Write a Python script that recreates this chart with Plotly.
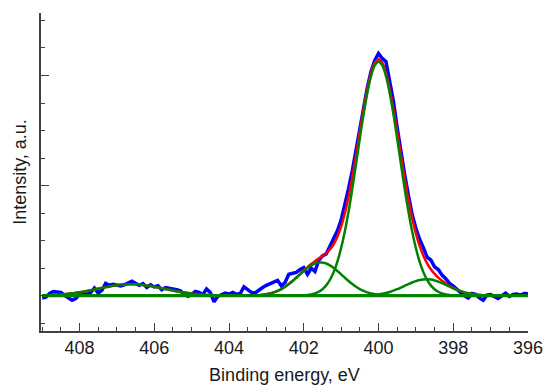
import plotly.graph_objects as go

# Binding energy grid (eV)
energy_ev = [
    409.0, 408.9, 408.8, 408.7, 408.6, 408.5, 408.4, 408.3, 408.2, 408.1,
    408.0, 407.9, 407.8, 407.7, 407.6, 407.5, 407.4, 407.3, 407.2, 407.1,
    407.0, 406.9, 406.8, 406.7, 406.6, 406.5, 406.4, 406.3, 406.2, 406.1,
    406.0, 405.9, 405.8, 405.7, 405.6, 405.5, 405.4, 405.3, 405.2, 405.1,
    405.0, 404.9, 404.8, 404.7, 404.6, 404.5, 404.4, 404.3, 404.2, 404.1,
    404.0, 403.9, 403.8, 403.7, 403.6, 403.5, 403.4, 403.3, 403.2, 403.1,
    403.0, 402.9, 402.8, 402.7, 402.6, 402.5, 402.4, 402.3, 402.2, 402.1,
    402.0, 401.9, 401.8, 401.7, 401.6, 401.5, 401.4, 401.3, 401.2, 401.1,
    401.0, 400.9, 400.8, 400.7, 400.6, 400.5, 400.4, 400.3, 400.2, 400.1,
    400.0, 399.9, 399.8, 399.7, 399.6, 399.5, 399.4, 399.3, 399.2, 399.1,
    399.0, 398.9, 398.8, 398.7, 398.6, 398.5, 398.4, 398.3, 398.2, 398.1,
    398.0, 397.9, 397.8, 397.7, 397.6, 397.5, 397.4, 397.3, 397.2, 397.1,
    397.0, 396.9, 396.8, 396.7, 396.6, 396.5, 396.4, 396.3, 396.2, 396.1,
    396.0,
]

# Measured spectrum (background subtracted, a.u.)
measured = [
    -0.08, -0.05, 0.08, 0.15, 0.14, 0.12, 0.02, -0.08, -0.16, -0.10,
    0.06, 0.10, 0.05, 0.12, 0.28, 0.10, 0.20, 0.45, 0.38, 0.42,
    0.38, 0.36, 0.40, 0.45, 0.53, 0.45, 0.38, 0.44, 0.30, 0.40,
    0.32, 0.36, 0.22, 0.30, 0.28, 0.26, 0.22, 0.18, 0.05, -0.02,
    0.05, 0.16, 0.12, 0.04, 0.25, 0.12, -0.22, -0.02, 0.04, 0.10,
    0.06, 0.12, 0.05, 0.08, 0.32, 0.20, 0.12, 0.10, 0.22, 0.30,
    0.38, 0.45, 0.52, 0.56, 0.36, 0.48, 0.78, 0.82, 0.85, 0.95,
    1.02, 0.78, 1.00, 0.88, 1.28, 1.45, 1.52, 1.80, 2.05, 2.36,
    2.75, 3.30, 3.90, 4.55, 5.30, 6.05, 6.85, 7.55, 8.15, 8.55,
    8.80, 8.62, 8.50, 7.85, 7.05, 6.10, 5.20, 4.40, 3.65, 2.95,
    2.45, 2.05, 1.75, 1.40, 1.30, 1.05, 0.95, 0.75, 0.62, 0.45,
    0.35, 0.22, 0.12, 0.00, -0.08, 0.08, 0.05, -0.08, -0.16, 0.02,
    0.04, -0.02, -0.10, 0.00, 0.09, -0.02, 0.05, 0.06, 0.02, 0.08,
    0.07,
]

# Fit envelope (sum of components)
fit_envelope = [
    0.012, 0.016, 0.021, 0.028, 0.036, 0.046, 0.057, 0.071, 0.087, 0.106,
    0.127, 0.150, 0.175, 0.202, 0.230, 0.258, 0.286, 0.314, 0.340, 0.363,
    0.384, 0.400, 0.412, 0.418, 0.420, 0.416, 0.407, 0.394, 0.376, 0.354,
    0.330, 0.303, 0.275, 0.247, 0.218, 0.191, 0.165, 0.140, 0.118, 0.098,
    0.081, 0.065, 0.052, 0.041, 0.032, 0.025, 0.019, 0.014, 0.011, 0.008,
    0.006, 0.004, 0.004, 0.004, 0.004, 0.005, 0.008, 0.014, 0.023, 0.037,
    0.057, 0.085, 0.124, 0.176, 0.243, 0.325, 0.423, 0.534, 0.658, 0.787,
    0.916, 1.039, 1.154, 1.257, 1.351, 1.443, 1.547, 1.683, 1.871, 2.140,
    2.511, 2.996, 3.604, 4.321, 5.119, 5.958, 6.773, 7.503, 8.082, 8.456,
    8.587, 8.461, 8.092, 7.513, 6.779, 5.951, 5.091, 4.258, 3.493, 2.824,
    2.265, 1.810, 1.453, 1.178, 0.963, 0.794, 0.658, 0.545, 0.447, 0.361,
    0.288, 0.224, 0.170, 0.123, 0.089, 0.062, 0.042, 0.028, 0.018, 0.011,
    0.007, 0.004, 0.002, 0.001, 0.0, 0.0, 0.0, 0.0, 0.0, 0.0,
    0.0,
]

# Component near 406.6 eV
comp_406 = [
    0.012, 0.016, 0.021, 0.028, 0.036, 0.046, 0.057, 0.071, 0.087, 0.106,
    0.127, 0.150, 0.175, 0.202, 0.230, 0.258, 0.286, 0.314, 0.340, 0.363,
    0.384, 0.400, 0.412, 0.418, 0.420, 0.416, 0.407, 0.394, 0.376, 0.354,
    0.330, 0.303, 0.275, 0.247, 0.218, 0.191, 0.165, 0.140, 0.118, 0.098,
    0.081, 0.065, 0.052, 0.041, 0.032, 0.025, 0.019, 0.014, 0.011, 0.008,
    0.006, 0.004, 0.003, 0.002, 0.001, 0.0, 0.0, 0.0, 0.0, 0.0,
    0.0, 0.0, 0.0, 0.0, 0.0, 0.0, 0.0, 0.0, 0.0, 0.0,
    0.0, 0.0, 0.0, 0.0, 0.0, 0.0, 0.0, 0.0, 0.0, 0.0,
    0.0, 0.0, 0.0, 0.0, 0.0, 0.0, 0.0, 0.0, 0.0, 0.0,
    0.0, 0.0, 0.0, 0.0, 0.0, 0.0, 0.0, 0.0, 0.0, 0.0,
    0.0, 0.0, 0.0, 0.0, 0.0, 0.0, 0.0, 0.0, 0.0, 0.0,
    0.0, 0.0, 0.0, 0.0, 0.0, 0.0, 0.0, 0.0, 0.0, 0.0,
    0.0, 0.0, 0.0, 0.0, 0.0, 0.0, 0.0, 0.0, 0.0, 0.0,
    0.0,
]

# Component near 401.5 eV
comp_401 = [
    0.0, 0.0, 0.0, 0.0, 0.0, 0.0, 0.0, 0.0, 0.0, 0.0,
    0.0, 0.0, 0.0, 0.0, 0.0, 0.0, 0.0, 0.0, 0.0, 0.0,
    0.0, 0.0, 0.0, 0.0, 0.0, 0.0, 0.0, 0.0, 0.0, 0.0,
    0.0, 0.0, 0.0, 0.0, 0.0, 0.0, 0.0, 0.0, 0.0, 0.0,
    0.0, 0.0, 0.0, 0.0, 0.0, 0.0, 0.0, 0.0, 0.0, 0.0,
    0.0, 0.0, 0.0, 0.002, 0.003, 0.005, 0.008, 0.014, 0.023, 0.037,
    0.057, 0.085, 0.124, 0.176, 0.243, 0.325, 0.423, 0.534, 0.654, 0.779,
    0.901, 1.012, 1.105, 1.171, 1.206, 1.206, 1.171, 1.105, 1.012, 0.901,
    0.779, 0.654, 0.534, 0.423, 0.325, 0.243, 0.176, 0.124, 0.085, 0.057,
    0.037, 0.023, 0.014, 0.008, 0.005, 0.003, 0.0, 0.0, 0.0, 0.0,
    0.0, 0.0, 0.0, 0.0, 0.0, 0.0, 0.0, 0.0, 0.0, 0.0,
    0.0, 0.0, 0.0, 0.0, 0.0, 0.0, 0.0, 0.0, 0.0, 0.0,
    0.0, 0.0, 0.0, 0.0, 0.0, 0.0, 0.0, 0.0, 0.0, 0.0,
    0.0,
]

# Main component near 400.0 eV
comp_400 = [
    0.0, 0.0, 0.0, 0.0, 0.0, 0.0, 0.0, 0.0, 0.0, 0.0,
    0.0, 0.0, 0.0, 0.0, 0.0, 0.0, 0.0, 0.0, 0.0, 0.0,
    0.0, 0.0, 0.0, 0.0, 0.0, 0.0, 0.0, 0.0, 0.0, 0.0,
    0.0, 0.0, 0.0, 0.0, 0.0, 0.0, 0.0, 0.0, 0.0, 0.0,
    0.0, 0.0, 0.0, 0.0, 0.0, 0.0, 0.0, 0.0, 0.0, 0.0,
    0.0, 0.0, 0.0, 0.0, 0.0, 0.0, 0.0, 0.0, 0.0, 0.0,
    0.0, 0.0, 0.0, 0.0, 0.0, 0.0, 0.0, 0.0, 0.004, 0.008,
    0.015, 0.027, 0.049, 0.086, 0.145, 0.237, 0.376, 0.578, 0.859, 1.239,
    1.732, 2.342, 3.070, 3.898, 4.794, 5.710, 6.589, 7.366, 7.976, 8.366,
    8.500, 8.366, 7.976, 7.366, 6.589, 5.710, 4.794, 3.898, 3.070, 2.342,
    1.732, 1.239, 0.859, 0.578, 0.376, 0.237, 0.145, 0.086, 0.049, 0.027,
    0.015, 0.008, 0.004, 0.0, 0.0, 0.0, 0.0, 0.0, 0.0, 0.0,
    0.0, 0.0, 0.0, 0.0, 0.0, 0.0, 0.0, 0.0, 0.0, 0.0,
    0.0,
]

# Component near 398.7 eV
comp_398 = [
    0.0, 0.0, 0.0, 0.0, 0.0, 0.0, 0.0, 0.0, 0.0, 0.0,
    0.0, 0.0, 0.0, 0.0, 0.0, 0.0, 0.0, 0.0, 0.0, 0.0,
    0.0, 0.0, 0.0, 0.0, 0.0, 0.0, 0.0, 0.0, 0.0, 0.0,
    0.0, 0.0, 0.0, 0.0, 0.0, 0.0, 0.0, 0.0, 0.0, 0.0,
    0.0, 0.0, 0.0, 0.0, 0.0, 0.0, 0.0, 0.0, 0.0, 0.0,
    0.0, 0.0, 0.0, 0.0, 0.0, 0.0, 0.0, 0.0, 0.0, 0.0,
    0.0, 0.0, 0.0, 0.0, 0.0, 0.0, 0.0, 0.0, 0.0, 0.0,
    0.0, 0.0, 0.0, 0.0, 0.0, 0.0, 0.0, 0.0, 0.0, 0.0,
    0.0, 0.0, 0.0, 0.0, 0.0, 0.005, 0.008, 0.013, 0.021, 0.033,
    0.050, 0.072, 0.102, 0.139, 0.185, 0.238, 0.297, 0.360, 0.423, 0.482,
    0.533, 0.571, 0.594, 0.600, 0.587, 0.557, 0.513, 0.459, 0.398, 0.334,
    0.273, 0.216, 0.166, 0.123, 0.089, 0.062, 0.042, 0.028, 0.018, 0.011,
    0.007, 0.004, 0.002, 0.001, 0.0, 0.0, 0.0, 0.0, 0.0, 0.0,
    0.0,
]

# Flat background level
baseline = [0.0] * len(energy_ev)

BLUE = "rgb(0,0,255)"
RED = "rgb(255,0,0)"
GREEN = "rgb(0,130,0)"
AXIS = "#404040"
FONT = "Liberation Sans, Arial, sans-serif"

fig = go.Figure()
fig.add_trace(go.Scatter(x=energy_ev, y=measured, mode="lines",
                         line=dict(color=BLUE, width=3.5), name="data"))
fig.add_trace(go.Scatter(x=energy_ev, y=fit_envelope, mode="lines",
                         line=dict(color=RED, width=2.5, shape="spline"), name="fit"))
for comp in (comp_406, comp_401, comp_400, comp_398):
    fig.add_trace(go.Scatter(x=energy_ev, y=comp, mode="lines",
                             line=dict(color=GREEN, width=2.5, shape="spline")))
fig.add_trace(go.Scatter(x=energy_ev, y=baseline, mode="lines",
                         line=dict(color=GREEN, width=3)))

fig.update_layout(
    width=543, height=385,
    margin=dict(l=41, r=15, t=13, b=54),
    paper_bgcolor="white", plot_bgcolor="white",
    showlegend=False,
    font=dict(family=FONT, size=18, color="#1a1a1a"),
)
fig.update_xaxes(
    range=[409.03, 396.0], autorange=False, automargin=False,
    tick0=396, dtick=2, ticks="inside", ticklen=8, tickwidth=1.3, tickcolor=AXIS,
    minor=dict(dtick=0.5, tick0=396, ticks="inside", ticklen=4, tickwidth=1.3, tickcolor=AXIS),
    showline=True, linecolor=AXIS, linewidth=1.5, mirror=False,
    showgrid=False, zeroline=False,
    tickfont=dict(size=18), ticklabeloverflow="allow",
    title=dict(text="Binding energy, eV", font=dict(size=18), standoff=12),
)
fig.update_yaxes(
    range=[-1.28, 10.27], autorange=False, automargin=False,
    tick0=0, dtick=4, ticks="inside", ticklen=8, tickwidth=1.3, tickcolor=AXIS,
    minor=dict(dtick=1, tick0=0, ticks="inside", ticklen=4, tickwidth=1.3, tickcolor=AXIS),
    showticklabels=False,
    showline=True, linecolor=AXIS, linewidth=1.5, mirror=False,
    showgrid=False, zeroline=False,
    title=dict(text="Intensity, a.u.", font=dict(size=18), standoff=8),
)

# Remove the browser's default 8 px body margin so the figure sits at (0, 0).
fig.write_html(
    "out.html",
    config={"displayModeBar": False},
    post_script="document.body.style.margin='0';document.body.style.overflow='hidden';",
)
